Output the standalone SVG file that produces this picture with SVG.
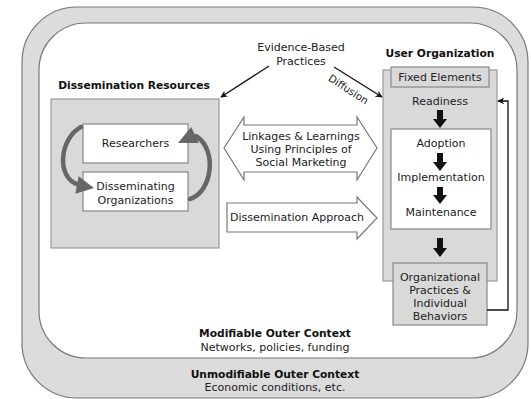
<svg xmlns="http://www.w3.org/2000/svg" width="531" height="399" viewBox="0 0 531 399">
<defs>
<style>
text{font-family:"DejaVu Sans","Verdana",sans-serif;font-size:11px;fill:#222;text-anchor:middle}
.b{font-weight:bold;font-size:10.7px;fill:#111}
.box{fill:#d9d9d9;stroke:#999;stroke-width:1.2}
.wbox{fill:#fff;stroke:#888;stroke-width:1.2}
.hollow{fill:#fff;stroke:#777;stroke-width:1.2}
.blk{fill:#111}
.arc{fill:none;stroke:#666;stroke-width:4.5;stroke-linecap:round}
.ahd{fill:#666}
.ln{fill:none;stroke:#111;stroke-width:1.3}
</style>
<marker id="ah" viewBox="0 0 10 10" refX="9" refY="5" markerWidth="7" markerHeight="7" orient="auto" markerUnits="userSpaceOnUse">
<path d="M0,0 L10,5 L0,10 L3,5 z" fill="#111"/>
</marker>
</defs>

<g id="outer-context">
<rect x="22" y="7" width="506" height="391" rx="55" ry="55" fill="#dcdcdc" stroke="#777" stroke-width="1.2"/>
<text class="b" x="275" y="378">Unmodifiable Outer Context</text>
<text x="275" y="391">Economic conditions, etc.</text>
</g>

<g id="modifiable-context">
<rect x="39" y="23" width="478" height="335" rx="47" ry="47" fill="#fff" stroke="#777" stroke-width="1.2"/>
<text class="b" x="275" y="337">Modifiable Outer Context</text>
<text x="275" y="351">Networks, policies, funding</text>
</g>

<g id="evidence">
<text x="301" y="51">Evidence-Based</text>
<text x="301" y="65">Practices</text>
</g>

<g id="dissemination-resources">
<text class="b" x="134" y="89">Dissemination Resources</text>
<rect class="box" x="51" y="99" width="168" height="149"/>
</g>

<g id="researchers">
<rect class="wbox" x="83" y="124" width="105" height="39"/>
<text x="135.5" y="147">Researchers</text>
</g>

<g id="disseminating-orgs">
<rect class="wbox" x="83" y="172" width="105" height="39"/>
<text x="135.5" y="190">Disseminating</text>
<text x="135.5" y="204">Organizations</text>
</g>

<g id="linkages">
<polygon class="hollow" points="224,148 244,117 244,125 357,125 357,117 377,148 357,180 357,172 244,172 244,180"/>
<text x="301" y="140">Linkages &amp; Learnings</text>
<text x="301" y="153">Using Principles of</text>
<text x="301" y="166">Social Marketing</text>
</g>

<g id="dissemination-approach">
<polygon class="hollow" points="227,203 357,203 357,197 377,218 357,239 357,232 227,232"/>
<text x="297" y="221">Dissemination Approach</text>
</g>

<g id="user-organization">
<text class="b" x="440" y="57">User Organization</text>
<rect class="box" x="383" y="70" width="114" height="211"/>
</g>

<g id="fixed-elements">
<rect class="box" x="391" y="67" width="98" height="20" style="stroke:#888"/>
<text x="440" y="81">Fixed Elements</text>
</g>

<g id="readiness">
<text x="440" y="105">Readiness</text>
</g>

<g id="stages">
<rect class="wbox" x="391" y="129" width="100" height="100"/>
<text x="441" y="147">Adoption</text>
<text x="441" y="181">Implementation</text>
<text x="441" y="216">Maintenance</text>
</g>

<g id="org-practices">
<rect class="box" x="393" y="263" width="94" height="62" style="stroke:#888"/>
<text x="440" y="281">Organizational</text>
<text x="440" y="294">Practices &amp;</text>
<text x="440" y="307">Individual</text>
<text x="440" y="320">Behaviors</text>
</g>

<g id="connectors">
<line class="ln" x1="269" y1="66" x2="221" y2="97" marker-end="url(#ah)"/>
<line class="ln" x1="334" y1="67" x2="382" y2="97" marker-end="url(#ah)"/>
<text transform="translate(350 87) rotate(33)" x="0" y="6.5" style="font-size:10.3px">Diffusion</text>
<polyline class="ln" points="487,310 508,310 508,101 498,101" marker-end="url(#ah)"/>
<path class="blk" d="M437,110 h6 v9 h4 l-7,9 l-7,-9 h4 z"/>
<path class="blk" d="M437,153 h6 v9 h4 l-7,9 l-7,-9 h4 z"/>
<path class="blk" d="M437,187 h6 v8 h4 l-7,9 l-7,-9 h4 z"/>
<path class="blk" d="M437,238 h6 v10 h4 l-7,9 l-7,-9 h4 z"/>
<path class="arc" d="M81,127 C60,138 55,178 79,185"/>
<polygon class="ahd" points="94,188 78.6,176.2 75.4,193.8"/>
<path class="arc" d="M190,199 C212,192 218,150 196,136"/>
<polygon class="ahd" points="178,143 191.2,126.9 198.8,143.1"/>
</g>
</svg>
